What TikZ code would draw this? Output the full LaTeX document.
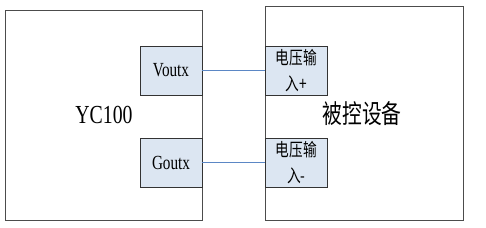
\documentclass[tikz,border=0pt]{standalone}
\usepackage{fontspec}
\setmainfont{Liberation Serif}
\newfontfamily\cjk{Noto Sans CJK SC}
\newcommand{\sq}[1]{\scalebox{0.76}[1]{#1}}
\begin{document}
\begin{tikzpicture}[
      x=1pt, y=-1pt,
      unit/.style={rectangle, draw=black!70, fill=white, line width=1pt, inner sep=0pt},
      port/.style={rectangle, draw=black!80, fill=portfill, line width=0.9pt, minimum width=62pt, minimum height=49pt, inner sep=0pt, align=center},
      wire/.style={draw=wireblue, line width=0.8pt},
      biglabel/.style={inner sep=0pt, font=\fontsize{26}{30}\selectfont},
      outlabel/.style={font=\fontsize{20}{24}\selectfont},
      inlabel/.style={font=\fontsize{18}{26}\selectfont}
  ]
    \definecolor{portfill}{HTML}{DCE6F2}
    \definecolor{wireblue}{HTML}{5B87C5}
    \useasboundingbox (0,0) rectangle (486,227);

    \node[unit, minimum width=197pt, minimum height=209pt] (yc) at (103.5,115.5) {};
    \node[unit, minimum width=198pt, minimum height=213pt] (dev) at (364,113.5) {};
    \node[biglabel] (yclabel) at (104,115) {\sq{YC100}};
    \node[biglabel] (devlabel) at (362,114) {\sq{\cjk 被控设备}};

    \node[port, outlabel] (vout) at (171,70.5) {\sq{Voutx}};
    \node[port, outlabel] (gout) at (171,162.5) {\sq{Goutx}};
    \node[port, inlabel] (vin) at (296.5,70.5) {\sq{\cjk 电压输}\\\sq{\cjk 入+}};
    \node[port, inlabel] (gin) at (296.5,162.5) {\sq{\cjk 电压输}\\\sq{\cjk 入-}};

    \draw[wire] (vout.east) -- (vin.west);
    \draw[wire] (gout.east) -- (gin.west);
  \end{tikzpicture}
\end{document}
